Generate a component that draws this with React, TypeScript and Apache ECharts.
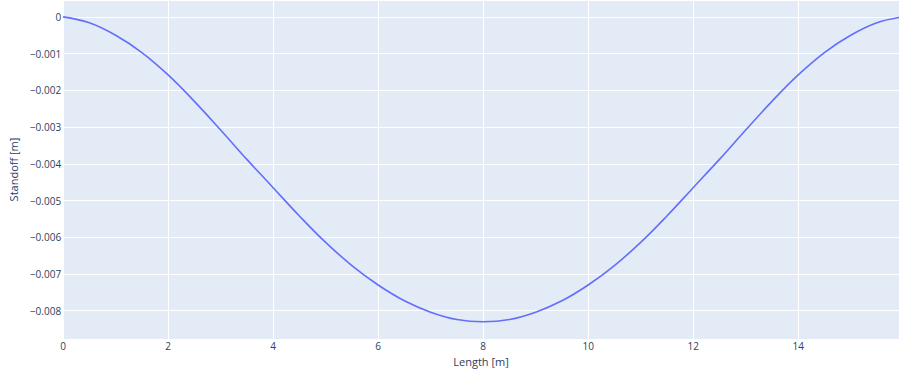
import React, { useEffect, useRef } from "react";
import * as echarts from "echarts";

const lengths = [0, 0.5, 1, 1.5, 2, 2.5, 3, 3.5, 4, 4.5, 5, 5.5, 6, 6.5, 7, 7.5, 8, 8.5, 9, 9.5, 10, 10.5, 11, 11.5, 12, 12.5, 13, 13.5, 14, 14.5, 15, 15.5, 16];
const standoff = [0, -0.00016, -0.0005, -0.00097, -0.00158, -0.0023, -0.00308, -0.00388, -0.00465, -0.00542, -0.00614, -0.00677, -0.0073, -0.00773, -0.00804, -0.00824, -0.0083, -0.00824, -0.00804, -0.00773, -0.0073, -0.00677, -0.00614, -0.00542, -0.00465, -0.00388, -0.00308, -0.0023, -0.00158, -0.00097, -0.0005, -0.00016, 0];

const xTitle = "Length [m]";
const yTitle = "Standoff [m]";

export default function App() {
  const ref = useRef<HTMLDivElement>(null);
  useEffect(() => {
    document.body.style.margin = "0";
    const chart = echarts.init(ref.current!, null, { renderer: "svg" });
    const font = "'Open Sans', sans-serif";
    chart.setOption({
      animation: false,
      backgroundColor: "#ffffff",
      grid: {
        left: 63,
        right: 0,
        top: 0,
        bottom: 34,
        show: true,
        backgroundColor: "#E3EBF6",
        borderWidth: 0,
      },
      xAxis: {
        type: "value",
        min: 0,
        max: 15.92,
        interval: 2,
        name: xTitle,
        nameLocation: "middle",
        nameGap: 17,
        nameTextStyle: { fontFamily: font, fontSize: 11, color: "#2a3f5f" },
        axisLine: { show: false },
        axisTick: { show: false },
        axisLabel: {
          showMaxLabel: false,
          margin: 2,
          fontFamily: font,
          fontSize: 10,
          color: "#2a3f5f",
        },
        splitLine: { show: true, lineStyle: { color: "#ffffff", width: 1 } },
      },
      yAxis: {
        type: "value",
        min: -0.00877,
        max: 0.00046,
        splitNumber: 9,
        name: yTitle,
        nameLocation: "middle",
        nameRotate: 90,
        nameGap: 44,
        nameTextStyle: { fontFamily: font, fontSize: 11, color: "#2a3f5f" },
        axisLine: { show: false },
        axisTick: { show: false },
        axisLabel: {
          showMinLabel: false,
          showMaxLabel: false,
          margin: 2,
          fontFamily: font,
          fontSize: 10,
          color: "#2a3f5f",
          formatter: (v: number) => {
            if (Math.abs(v) < 1e-9) return "0";
            return v.toFixed(3).replace("-", "\u2212");
          },
        },
        splitLine: { show: true, lineStyle: { color: "#ffffff", width: 1 } },
      },
      series: [
        {
          type: "line",
          data: lengths.map((x, i) => [x, standoff[i]]),
          showSymbol: false,
          smooth: 0.4,
          lineStyle: { color: "#636efa", width: 1.6 },
          itemStyle: { color: "#636efa" },
        },
      ],
    });
    return () => chart.dispose();
  }, []);
  return <div ref={ref} style={{ width: 899, height: 373 }} />;
}
